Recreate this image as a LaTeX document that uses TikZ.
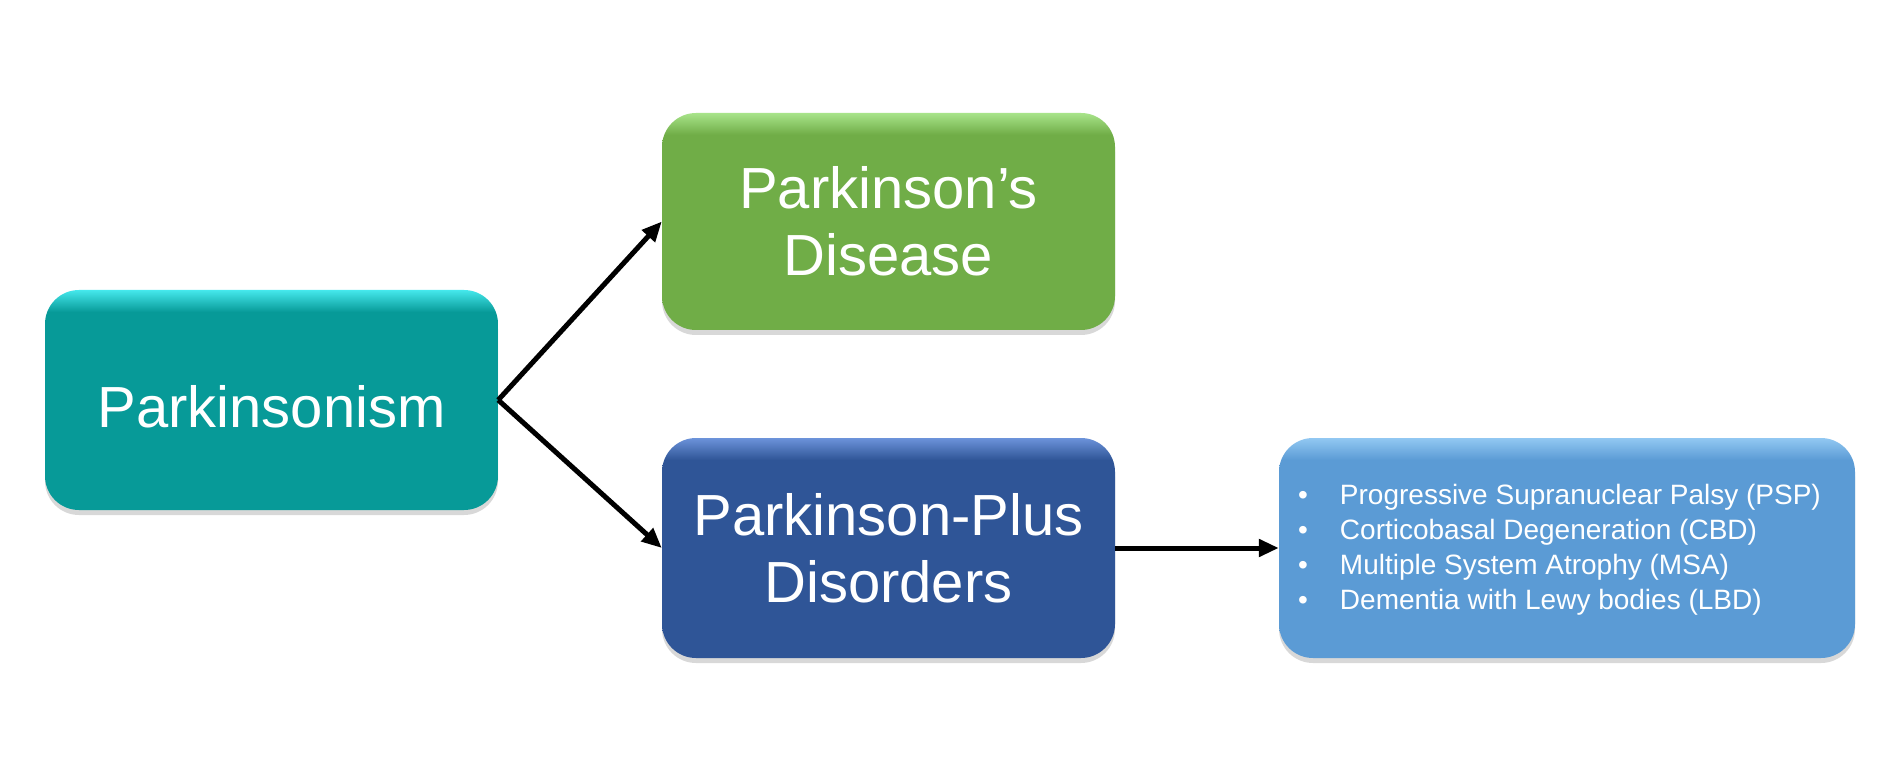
\documentclass[tikz,border=0pt]{standalone}
\usepackage{fontspec}
\setmainfont{Liberation Sans}
\usetikzlibrary{arrows.meta,shadows}
\definecolor{tealbox}{HTML}{079A98}
\definecolor{teallight}{HTML}{45E8EC}
\definecolor{greenbox}{HTML}{70AD47}
\definecolor{greenlight}{HTML}{A8E48A}
\definecolor{bluebox}{HTML}{2F5597}
\definecolor{bluelight}{HTML}{6C93DA}
\definecolor{listbox}{HTML}{5B9BD5}
\definecolor{listlight}{HTML}{92C8F2}
\pgfdeclareverticalshading{tealsh}{100bp}{color(0bp)=(tealbox); color(70bp)=(tealbox); color(75bp)=(teallight); color(100bp)=(teallight)}
\pgfdeclareverticalshading{greensh}{100bp}{color(0bp)=(greenbox); color(70bp)=(greenbox); color(75bp)=(greenlight); color(100bp)=(greenlight)}
\pgfdeclareverticalshading{bluesh}{100bp}{color(0bp)=(bluebox); color(70bp)=(bluebox); color(75bp)=(bluelight); color(100bp)=(bluelight)}
\pgfdeclareverticalshading{listsh}{100bp}{color(0bp)=(listbox); color(70bp)=(listbox); color(75bp)=(listlight); color(100bp)=(listlight)}
\tikzset{
  box/.style={rounded corners=34pt, minimum width=453pt, minimum height=219pt,
    inner sep=0pt, text=white, align=center, shade, shading=#1,
    font=\fontsize{58}{67}\selectfont,
    drop shadow={opacity=0.3, shadow xshift=0pt, shadow yshift=-5pt}},
  arr/.style={line width=5pt, -{Triangle[length=20pt,width=17pt]}}
}
\begin{document}
\begin{tikzpicture}[x=1pt,y=-1pt]
\useasboundingbox (0,0) rectangle (1901,783);
\fill[white] (0,0) rectangle (1901,783);
\node[box=tealsh, minimum height=220pt, text height=56pt, text depth=0pt] (pism) at (271.5,400) {Parkinsonism};
\node[box=greensh, minimum height=217pt] (pd) at (888.5,221.5) {Parkinson’s\\Disease};
\node[box=bluesh, minimum height=220pt] (ppd) at (888.5,548) {Parkinson-Plus\\Disorders};
\node[box=listsh, minimum width=576pt, minimum height=220pt] (list) at (1567,548) {};
\node[anchor=west, text=white, inner sep=0pt, font=\fontsize{28}{35}\selectfont] (items) at (1298,550)
  {\begin{tabular}{@{}l@{\hspace{32pt}}l@{}}
   •&Progressive Supranuclear Palsy (PSP)\\
   •&Corticobasal Degeneration (CBD)\\
   •&Multiple System Atrophy (MSA)\\
   •&Dementia with Lewy bodies (LBD)
   \end{tabular}};
\draw[arr] (pism.east) -- (pd.west);
\draw[arr] (pism.east) -- (ppd.west);
\draw[arr] (ppd.east) -- (list.west);
\end{tikzpicture}
\end{document}
